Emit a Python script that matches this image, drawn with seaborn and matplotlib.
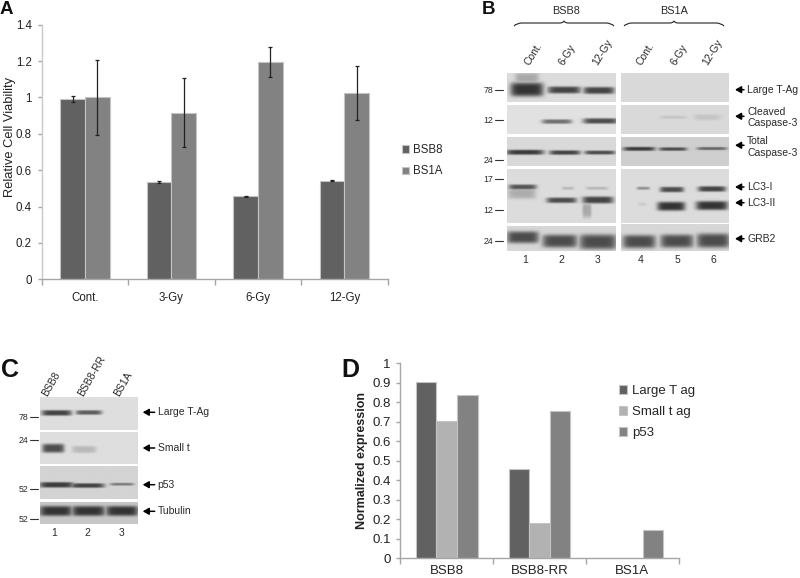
import numpy as np
import pandas as pd
import seaborn as sns
import matplotlib.pyplot as plt
from matplotlib.path import Path
from matplotlib.patches import PathPatch
from matplotlib.ticker import FixedLocator

# panel A
doses = ['Cont.', '3-Gy', '6-Gy', '12-Gy']
bsb8_viab = [0.99, 0.535, 0.457, 0.543]
bs1a_viab = [1.0, 0.915, 1.195, 1.025]
bsb8_err = [0.017, 0.005, 0.002, 0.003]
bs1a_err = [0.205, 0.19, 0.083, 0.148]

# panel D
cell_lines = ['BSB8', 'BSB8-RR', 'BS1A']
large_t = [0.905, 0.455, 0.0]
small_t = [0.705, 0.18, 0.0]
p53 = [0.838, 0.755, 0.145]

DARK = '#616161'
MID = '#828282'
LIGHT = '#b2b2b2'
EDGE = '#c4c4c4'
AXCOL = '#a6a6a6'

sns.set_theme(style='white')
plt.rcParams['font.family'] = ['Liberation Sans', 'DejaVu Sans']
W, H = 800, 578
fig = plt.figure(figsize=(W / 100, H / 100), dpi=100)


def px_axes(x0, x1, y_top, y_bot):
    return fig.add_axes([x0 / W, 1 - y_bot / H, (x1 - x0) / W, (y_bot - y_top) / H])


def style_axes(ax, n, lab_size, x_pad):
    sns.despine(ax=ax)
    for s in ['left', 'bottom']:
        ax.spines[s].set_color(AXCOL)
        ax.spines[s].set_linewidth(1)
    ax.set_xlim(-0.5, n - 0.5)
    ax.xaxis.set_minor_locator(FixedLocator(np.arange(n + 1) - 0.5))
    ax.tick_params(axis='x', which='major', length=0, pad=x_pad, labelsize=lab_size, colors='#222222')
    ax.tick_params(axis='x', which='minor', length=4, width=1, color=AXCOL, bottom=True)
    ax.tick_params(axis='y', length=3, width=1, color=AXCOL, left=True, pad=4,
                   labelsize=lab_size, labelcolor='#222222')
    ax.set_xlabel('')


# ---- A
df_a = pd.DataFrame({'dose': doses * 2,
                     'line': ['BSB8'] * 4 + ['BS1A'] * 4,
                     'viab': bsb8_viab + bs1a_viab})
ax_a = px_axes(41.7, 387.7, 24.7, 279.3)
sns.barplot(data=df_a, x='dose', y='viab', hue='line', palette=[DARK, MID], width=0.574,
            gap=0, edgecolor=EDGE, linewidth=0.8, saturation=1, ax=ax_a)
ax_a.set_ylim(0, 1.4)
ax_a.set_yticks(np.arange(0, 1.41, 0.2))
ax_a.set_yticklabels(['0', '0.2', '0.4', '0.6', '0.8', '1', '1.2', '1.4'])
style_axes(ax_a, 4, 8.3, 9.5)
ax_a.spines['left'].set_color('#c8c8c8')
ax_a.set_ylabel('Relative Cell Viability', fontsize=9.3, color='#222222')
ax_a.yaxis.set_label_coords((16 - 41.7) / 346, (279.3 - 137) / 254.6)
bar_x = [p.get_x() + p.get_width() / 2 for p in ax_a.patches[:8]]
ax_a.errorbar(bar_x, bsb8_viab + bs1a_viab, yerr=bsb8_err + bs1a_err, fmt='none',
              ecolor='#222222', elinewidth=0.9, capsize=1.6, capthick=0.9)
h_a, l_a = ax_a.get_legend_handles_labels()
ax_a.legend(h_a, l_a, loc='center left', bbox_to_anchor=(402 / W, 1 - 160.7 / H),
            bbox_transform=fig.transFigure, frameon=False, fontsize=8.3, handlelength=0.65,
            handleheight=0.65, handletextpad=0.3, labelspacing=0.82, borderpad=0, borderaxespad=0)

# ---- D
df_d = pd.DataFrame({'line': cell_lines * 3,
                     'prot': ['Large T ag'] * 3 + ['Small t ag'] * 3 + ['p53'] * 3,
                     'val': large_t + small_t + p53})
ax_d = px_axes(400.3, 678.7, 363, 558.3)
sns.barplot(data=df_d, x='line', y='val', hue='prot', palette=[DARK, LIGHT, MID], width=0.665,
            gap=0, edgecolor=EDGE, linewidth=0.8, saturation=1, ax=ax_d)
ax_d.set_ylim(0, 1)
ax_d.set_yticks(np.arange(0, 1.01, 0.1))
ax_d.set_yticklabels(['0', '0.1', '0.2', '0.3', '0.4', '0.5', '0.6', '0.7', '0.8', '0.9', '1'])
style_axes(ax_d, 3, 9.5, 4.5)
ax_d.set_ylabel('Normalized expression', fontsize=9, fontweight='bold', color='#222222', labelpad=3)
for p in ax_d.patches[:9]:
    if p.get_height() == 0:
        p.set_visible(False)
h_d, l_d = ax_d.get_legend_handles_labels()
ax_d.legend(h_d, l_d, loc='center left', bbox_to_anchor=(619.3 / W, 1 - 412.3 / H),
            bbox_transform=fig.transFigure, frameon=False, fontsize=9.5, handlelength=0.62,
            handleheight=0.62, handletextpad=0.35, labelspacing=0.68, borderpad=0, borderaxespad=0)

# ---- blots, drawn on an overlay in pixel coordinates
ov = fig.add_axes([0, 0, 1, 1])
ov.patch.set_alpha(0)
ov.axis('off')

# strip: (x0, x1, y0, y1, background, [bands as x, y, width, height, darkness])
strips = [
    # B, left
    (507.3, 616, 73.3, 102, .86, [(527, 78, 24, 10, .3), (527, 89.5, 33, 14, 1), (564.3, 90, 33, 7, .9),
                                  (599, 90.5, 31, 7, .9)]),
    (507.3, 616, 105, 134, .88, [(557, 121.3, 30, 4.5, .65), (600.7, 120.7, 35, 5.5, .85)]),
    (507.3, 616, 136.7, 165.7, .85, [(525, 151.7, 38, 5, .95), (565, 152, 31, 4.5, .9), (600, 152, 31, 4, .85)]),
    (507.3, 616, 169, 222.7, .86, [(522.7, 186.7, 28, 5, .8), (522, 193, 28, 11, .28), (561.7, 200, 30, 5.5, .85),
                                   (568, 188, 12, 3, .2), (598, 199.7, 31, 7, .9), (597, 188, 22, 3, .22),
                                   (587, 210, 9, 15, .3)]),
    (507.3, 616, 226.7, 251.3, .84, [(523, 237.7, 32, 12, .85), (560, 241.5, 35, 13, .85), (598, 242.3, 37, 15, .85)]),
    # B, right
    (621, 729, 73.3, 102, .85, []),
    (621, 729, 105, 134, .85, [(673, 117, 27, 3, .12), (707, 117, 27, 6, .12)]),
    (621, 729, 136.7, 165.7, .81, [(639, 148.3, 32, 4, .95), (672.7, 148.5, 28, 3.5, .85), (711.7, 148, 30, 3, .7)]),
    (621, 729, 169, 222.7, .86, [(643, 188, 13, 3, .45), (671.7, 189.3, 24, 5.5, .85), (671, 206, 28, 9, 1),
                                 (711.7, 188.7, 28, 5.5, .9), (711.7, 205.3, 32, 9, 1), (642, 204, 8, 3, .1)]),
    (621, 729, 225, 251.3, .84, [(639, 242, 33, 13, .85), (676.7, 241.5, 33, 13, .85), (713, 241, 33, 14, .85)]),
    # C
    (40.3, 137.7, 397.3, 429.7, .87, [(56.7, 412.7, 30, 5.5, .9), (88.7, 412.3, 26, 4.5, .75)]),
    (40.3, 137.7, 432.3, 464.3, .87, [(53.3, 448.3, 22, 9, .85), (84, 449.5, 24, 7, .22)]),
    (40.3, 137.7, 467, 499.3, .83, [(56.7, 485.3, 34, 5.5, .95), (87.3, 486, 34, 4.5, .9), (121.7, 484.7, 24, 2.8, .55)]),
    (40.3, 137.7, 502, 523.7, .78, [(56, 510.7, 32, 10, 1), (88.3, 510.7, 33, 10, 1), (121.7, 510.7, 32, 10, 1)]),
]
for x0, x1, y0, y1, bg, bands in strips:
    xx, yy = np.meshgrid(np.arange(x0, x1, 0.5), np.arange(y0, y1, 0.5))
    ink = np.zeros_like(xx)
    for bx, by, bw, bh, dark in bands:
        d = ((xx - bx) / (bw / 2)) ** 6 + ((yy - by) / (bh / 2)) ** 4
        ink = np.maximum(ink, dark * np.exp(-d))
    ov.imshow(bg - (bg - 0.2) * ink, cmap='gray', vmin=0, vmax=1, extent=(x0, x1, y1, y0),
              aspect='auto', interpolation='bilinear')
ov.set_xlim(0, W)
ov.set_ylim(H, 0)

TXT = '#2a2a2a'


def label(x, y, s, size=7.5, **kw):
    ov.text(x, y, s, fontsize=size, color=kw.pop('color', TXT), va=kw.pop('va', 'center'), **kw)


def arrow_label(x_txt, x_tip, y, s, y_txt=None):
    ov.annotate('', xy=(x_tip, y), xytext=(x_txt - 3, y),
                arrowprops=dict(arrowstyle='-|>,head_width=0.17,head_length=0.3', color='black', lw=1.1,
                                shrinkA=0, shrinkB=0))
    label(x_txt, y if y_txt is None else y_txt, s)


def mw(x_txt, x0, x1, y, s):
    label(x_txt, y + 0.7, s, size=6.3, ha='center')
    ov.plot([x0, x1], [y, y], color='#333333', lw=0.8)


def brace(x0, x1, y):
    m = (x0 + x1) / 2
    verts = [(x0, y + 3), (x0 + 3, y), (x0 + 8, y), (m - 4, y), (m - 1, y), (m, y - 2),
             (m + 1, y), (m + 4, y), (x1 - 8, y), (x1 - 3, y), (x1, y + 3)]
    codes = [Path.MOVETO, Path.CURVE3, Path.CURVE3, Path.LINETO, Path.CURVE3, Path.CURVE3,
             Path.CURVE3, Path.CURVE3, Path.LINETO, Path.CURVE3, Path.CURVE3]
    ov.add_patch(PathPatch(Path(verts, codes), fc='none', ec='#222222', lw=0.8))


# panel letters
for x, y, s, size in [(0, 14.5, 'A', 13.5), (481.5, 14.5, 'B', 13.5), (1, 377, 'C', 18), (341, 377, 'D', 18)]:
    ov.text(x, y, s, fontsize=size, fontweight='bold', color='#111111', va='baseline', ha='left')

# B text
label(566, 11.3, 'BSB8', size=7.8, ha='center')
label(674, 11.3, 'BS1A', size=7.8, ha='center')
brace(514, 614, 23)
brace(624, 724, 23)
for x, y, s in [(530, 66, 'Cont.'), (564, 66, '6-Gy'), (598, 66, '12-Gy'),
                (641, 66, 'Cont.'), (676, 66, '6-Gy'), (708, 66, '12-Gy')]:
    ov.text(x, y, s, fontsize=7.5, color=TXT, rotation=58, rotation_mode='anchor', ha='left', va='baseline')
for y, s in [(90, '78'), (119.7, '12'), (159.5, '24'), (179, '17'), (210, '12'), (241, '24')]:
    mw(488, 495, 502.7, y, s)
arrow_label(747, 735, 89.7, 'Large T-Ag')
arrow_label(747, 735, 116.3, 'Cleaved\nCaspase-3', y_txt=117.5)
arrow_label(747, 735, 145.3, 'Total\nCaspase-3', y_txt=147)
arrow_label(747, 735, 187, 'LC3-I')
arrow_label(747, 735, 202.7, 'LC3-II')
arrow_label(747, 735, 238.7, 'GRB2')
for x, s in zip([524.7, 561, 597.3, 640.3, 677, 713.3], '123456'):
    label(x, 259.7, s, ha='center')

# C text
for x, s in [(47, 'BSB8'), (83, 'BSB8-RR'), (119, 'BS1A')]:
    ov.text(x, 397, s, fontsize=7.5, color=TXT, rotation=60, rotation_mode='anchor', ha='left', va='baseline')
for y, s in [(417, '78'), (440, '24'), (489, '52'), (519, '52')]:
    mw(23.3, 30, 37.5, y, s)
arrow_label(157.7, 142.7, 412.3, 'Large T-Ag')
arrow_label(157.7, 142.7, 448, 'Small t')
arrow_label(157.7, 142.7, 484.7, 'p53')
arrow_label(157.7, 142.7, 511.3, 'Tubulin')
for x, s in zip([53.7, 87.3, 121.7], '123'):
    label(x, 533, s, ha='center')

fig.savefig('out.png', dpi=100)
